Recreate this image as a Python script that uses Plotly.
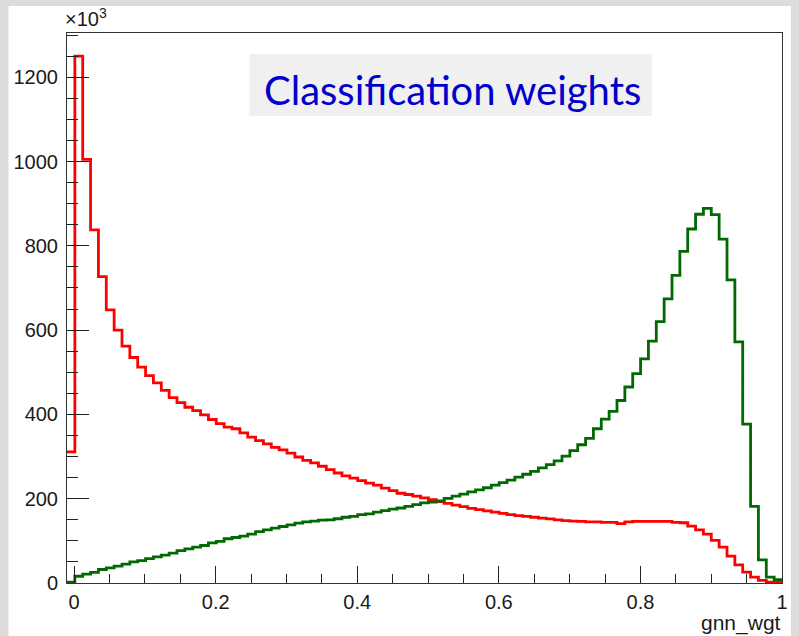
import plotly.graph_objects as go

# ---- data (91 bins from -0.01 to 1.0) ----
x_min = -0.01
x_max = 1.0
n_bins = 91

red_counts = [
    311, 1250, 1005, 838, 727, 648, 600, 562, 535, 512, 492, 475, 457, 440, 428, 417, 409, 399, 388, 378, 370,
    366, 356, 346, 338, 330, 322, 316, 308, 299, 291, 285, 277, 269, 261, 254, 249, 243, 237, 232, 225, 219,
    213, 210, 206, 202, 198,
    193, 189, 185, 181, 177, 174, 171, 168, 165, 162, 160, 158, 156, 154, 152, 150, 148, 147, 146, 145, 145,
    144, 144, 141, 145, 146,
    146, 146, 146, 146, 144, 143, 135, 126, 116, 101, 85, 64, 43, 26, 14, 6, 2, 1.5,
]

green_counts = [
    2, 16, 21, 25, 32, 36, 40, 45, 50, 53, 58, 62, 66, 71, 77, 81, 85, 89, 95, 99, 105, 108,
    111, 116, 122, 126, 130, 134, 138, 142, 145, 147, 149, 150, 152.5, 156, 158, 162, 164, 168, 171.5,
    175.5, 178, 182, 186, 190, 192,
    195, 201, 206, 211, 216, 221, 226, 232, 238, 244,
    251, 258, 265, 273, 281, 290, 301, 314, 328, 343,
    366, 389, 407, 433, 465, 497, 532, 574, 620, 674,
    730, 787, 840, 875, 889, 874, 816, 719, 572, 377,
    182, 55, 14, 8,
]

x_tick_vals = [0, 0.2, 0.4, 0.6, 0.8, 1.0]
x_tick_text = ["0", "0.2", "0.4", "0.6", "0.8", "1"]
y_tick_vals = [0, 200, 400, 600, 800, 1000, 1200]
y_tick_text = ["0", "200", "400", "600", "800", "1000", "1200"]

title_text = "Classification weights"
x_title = "gnn_wgt"
y_range_max = 1305

# ---- helpers ----
bin_w = (x_max - x_min) / n_bins
edges = [x_min + i * bin_w for i in range(n_bins + 1)]


def step_xy(counts):
    xs = list(edges)
    ys = list(counts) + [counts[-1]]
    return xs, ys


W, H = 799, 636
ML, MR, MT, MB = 67, 11, 33, 53
PW = W - ML - MR
PH = H - MT - MB


def px(xp):
    return (xp - ML) / PW


def py(yp):
    return (H - MB - yp) / PH


fig = go.Figure()

gx, gy = step_xy(green_counts)
rx, ry = step_xy(red_counts)

fig.add_trace(go.Scatter(x=rx, y=ry, mode="lines", line=dict(color="#ff0000", width=2.8, shape="hv"),
                         hoverinfo="skip", showlegend=False))
fig.add_trace(go.Scatter(x=gx, y=gy, mode="lines", line=dict(color="#006a00", width=2.8, shape="hv"),
                         hoverinfo="skip", showlegend=False))

tickfont = dict(family="Liberation Sans, Arial, sans-serif", size=20, color="#1a1a1a")

fig.update_xaxes(
    range=[x_min, x_max],
    tickmode="array", tickvals=x_tick_vals, ticktext=x_tick_text,
    ticks="inside", ticklen=17, tickwidth=1, tickcolor="#222",
    minor=dict(dtick=0.05, tick0=0, ticks="inside", ticklen=9, tickwidth=1, tickcolor="#222"),
    showline=True, linecolor="#333", linewidth=1, mirror=True,
    showgrid=False, zeroline=False,
    tickfont=tickfont, ticklabelstandoff=1,
)
fig.update_yaxes(
    range=[0, y_range_max],
    tickmode="array", tickvals=y_tick_vals, ticktext=y_tick_text,
    ticks="inside", ticklen=22, tickwidth=1, tickcolor="#222",
    minor=dict(dtick=50, tick0=0, ticks="inside", ticklen=11, tickwidth=1, tickcolor="#222"),
    showline=True, linecolor="#333", linewidth=1, mirror=True,
    showgrid=False, zeroline=False,
    tickfont=tickfont, ticklabelstandoff=4,
)

shapes = [
    # white canvas
    dict(type="rect", xref="paper", yref="paper", x0=px(8), x1=px(797), y0=py(6), y1=py(H + 5),
         fillcolor="white", line=dict(width=0), layer="below"),
    # title box
    dict(type="rect", xref="paper", yref="paper", x0=px(251), x1=px(657), y0=py(116), y1=py(54),
         fillcolor="#f0f0f0", line=dict(width=0), layer="below"),
]

annotations = [
    dict(text=title_text, xref="paper", yref="paper", x=px(456), y=py(90), xanchor="center", yanchor="middle",
         showarrow=False, font=dict(family="Comic Sans MS, Lato, sans-serif", size=40, color="#0000cc")),
    dict(text="×10<sup>3</sup>", xref="paper", yref="paper", x=px(63), y=py(32), xanchor="left", yanchor="bottom",
         showarrow=False, font=dict(family="Liberation Sans, Arial, sans-serif", size=20, color="#1a1a1a")),
    dict(text=x_title, xref="paper", yref="paper", x=px(789), y=py(623), xanchor="right", yanchor="middle",
         showarrow=False, font=dict(family="Liberation Sans, Arial, sans-serif", size=21, color="#1a1a1a")),
]

fig.update_layout(
    width=W, height=H,
    margin=dict(l=ML, r=MR, t=MT, b=MB, pad=0),
    paper_bgcolor="#dcdcdc",
    plot_bgcolor="white",
    shapes=shapes,
    annotations=annotations,
    showlegend=False,
)

fig.write_html("out.html", config={"displayModeBar": False},
               post_script="document.body.style.margin='0';document.body.style.overflow='hidden';")
